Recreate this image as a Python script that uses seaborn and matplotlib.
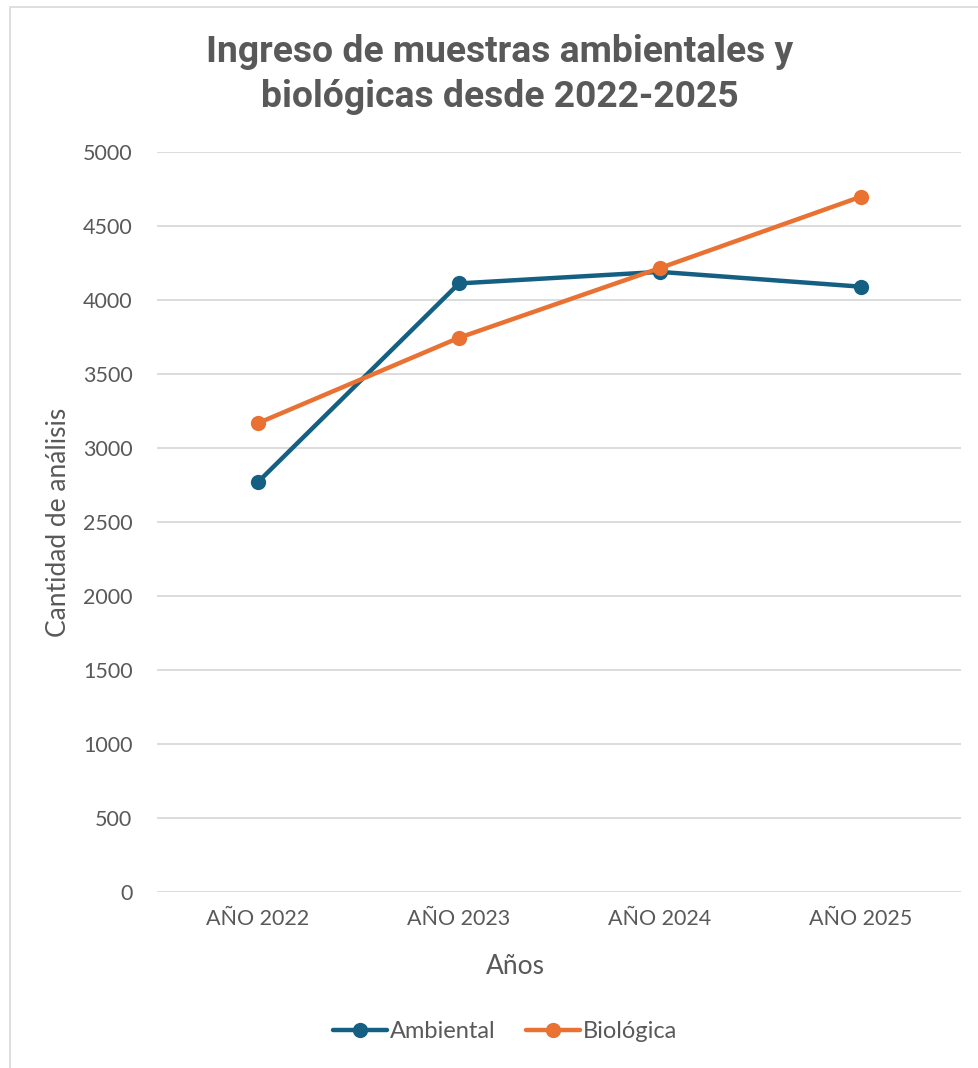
import matplotlib
matplotlib.use("Agg")
import matplotlib.pyplot as plt
import seaborn as sns
import pandas as pd
from matplotlib.patches import Rectangle
from matplotlib.lines import Line2D

years = ["AÑO 2022", "AÑO 2023", "AÑO 2024", "AÑO 2025"]
ambiental = [2770, 4112, 4190, 4090]
biologica = [3168, 3745, 4216, 4698]
series_names = ["Ambiental", "Biológica"]
yticks = [0, 500, 1000, 1500, 2000, 2500, 3000, 3500, 4000, 4500, 5000]

df = pd.DataFrame({
    "Año": years * 2,
    "Valor": ambiental + biologica,
    "Serie": [series_names[0]] * 4 + [series_names[1]] * 4,
})

sns.set_theme(style="white")
plt.rcParams['font.family'] = ['Lato', 'DejaVu Sans']
txt = "#595959"

fig = plt.figure(figsize=(9.79, 10.68), dpi=100)
fig.patches.append(Rectangle((10 / 979, -0.1), 1.2, (1068 - 7) / 1068 + 0.1,
                             transform=fig.transFigure, fill=False,
                             edgecolor="#d9d9d9", linewidth=1.2))
ax = fig.add_axes([157.5 / 979, (1068 - 892) / 1068, 804 / 979, 740 / 1068])

palette = {"Ambiental": "#156082", "Biológica": "#E97132"}
sns.lineplot(data=df, x="Año", y="Valor", hue="Serie", palette=palette,
             marker="o", markersize=11, linewidth=3.2, markeredgewidth=0,
             ax=ax, legend=False, sort=False)

ax.set_xlim(-0.5, 3.5)
ax.set_ylim(0, 5000)
ax.set_yticks(yticks)
ax.set_yticklabels([str(v) for v in yticks])
ax.yaxis.grid(True, color="#d9d9d9", linewidth=1.3)
ax.set_axisbelow(True)
for s in ax.spines.values():
    s.set_visible(False)
ax.tick_params(axis="both", length=0, labelsize=15.5, colors=txt)
ax.tick_params(axis="y", pad=18)
ax.tick_params(axis="x", pad=12)
ax.set_xlabel("Años", fontsize=19, color=txt)
ax.set_ylabel("Cantidad de análisis", fontsize=19, color=txt)
ax.yaxis.set_label_coords(-(157.5 - 71) / 804, 0.5)
ax.xaxis.set_label_coords((515 - 157.5) / 804, -(954 - 892) / 740)

for y, line in [(52, "Ingreso de muestras ambientales y"), (97, "biológicas desde 2022-2025")]:
    fig.text(500 / 979, 1 - y / 1068, line,
             ha="center", va="center", fontsize=26.8, fontweight="bold", color=txt,
             family=['Roboto', 'DejaVu Sans'])

handles = [Line2D([], [], color=palette[n], marker="o", markersize=11,
                  linewidth=3.2, markeredgewidth=0) for n in series_names]
fig.legend(handles, series_names, loc="center", bbox_to_anchor=(505 / 979, 1 - 1032 / 1068),
           ncol=2, frameon=False, fontsize=17, labelcolor=txt, handlelength=2.3,
           handletextpad=0.1, columnspacing=1.3)

fig.savefig("out.png", dpi=100, facecolor="white")
